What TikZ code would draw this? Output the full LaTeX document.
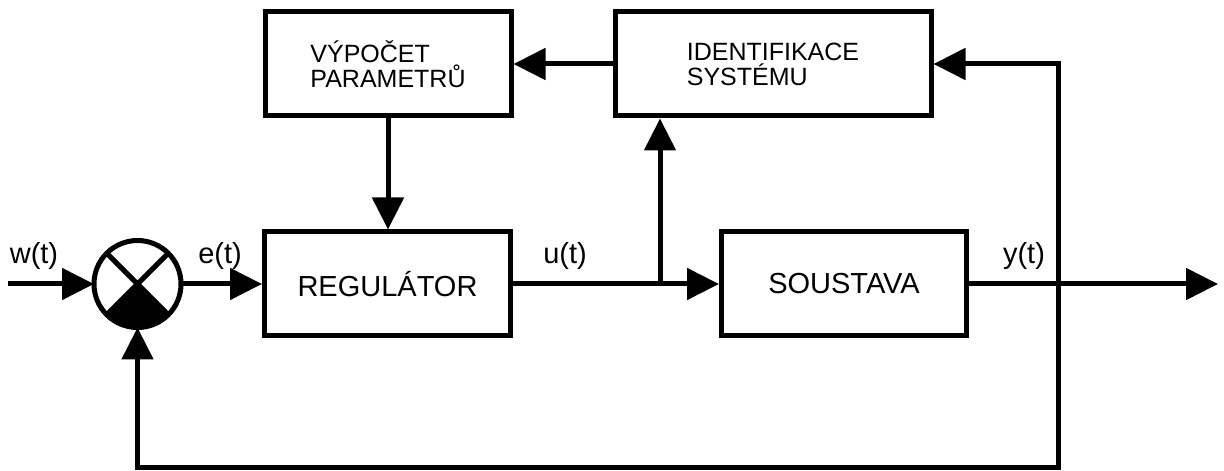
\documentclass[tikz,border=0pt]{standalone}
\usepackage{fontspec}
\setmainfont{Liberation Sans}
\usetikzlibrary{arrows.meta,calc}
\begin{document}
\begin{tikzpicture}[x=1pt,y=1pt,
  line width=5pt,
  blk/.style={draw,rectangle,inner sep=0pt,font=\fontsize{29}{29}\selectfont},
  blk2/.style={draw,rectangle,inner sep=0pt,align=left,font=\fontsize{25}{25}\selectfont},
  lbl/.style={anchor=base,inner sep=0pt,font=\fontsize{29}{29}\selectfont},
  arr/.style={-{Triangle[length=32pt,width=31pt]}}]
\useasboundingbox (0,0) rectangle (1224,471);
% blocks
\node[blk,minimum width=246pt,minimum height=104pt] (reg) at (387.5,187) {REGULÁTOR};
\node[blk,minimum width=245pt,minimum height=104pt] (sys) at (844,187) {SOUSTAVA};
\node[blk2,minimum width=246pt,minimum height=104pt] (calc) at (388,407) {VÝPOČET\\PARAMETRŮ};
\node[blk2,minimum width=316pt,minimum height=104pt] (ident) at (773,407) {IDENTIFIKACE\\SYSTÉMU};
% summing junction
\node[draw,circle,minimum size=87pt,inner sep=0pt,outer sep=0pt] (sum) at (137.5,187) {};
\fill (sum.center) -- ++(-45:43.5pt) arc[start angle=-45,end angle=-135,radius=43.5pt] -- cycle;
\draw (sum.45) -- (sum.-135);
\draw (sum.135) -- (sum.-45);
% coordinates
\coordinate (in) at (8,187);
\coordinate (ubr) at (660,187);
\coordinate (ybr) at (1058.5,187);
\coordinate (out) at (1218,187);
\coordinate (fb) at (1058.5,3.5);
% connectors
\draw[arr] (in) -- (sum.west);
\draw[arr] (sum.east) -- (reg.west);
\draw (reg.east) -- (ubr);
\draw[arr] (ubr) -- (sys.west);
\draw[arr] (ubr) -- (ubr |- ident.south);
\draw[arr] (sys.east) -- (out);
\draw[arr] (ybr) |- (ident.east);
\draw[arr] (ybr) -- (fb) -| (sum.south);
\draw[arr] (ident.west) -- (calc.east);
\draw[arr] (calc.south) -- (calc.south |- reg.north);
% labels
\node[lbl] (lw) at (34,207) {w(t)};
\node[lbl] (le) at (220,207) {e(t)};
\node[lbl] (lu) at (565,207) {u(t)};
\node[lbl] (ly) at (1024,207) {y(t)};
\end{tikzpicture}
\end{document}
